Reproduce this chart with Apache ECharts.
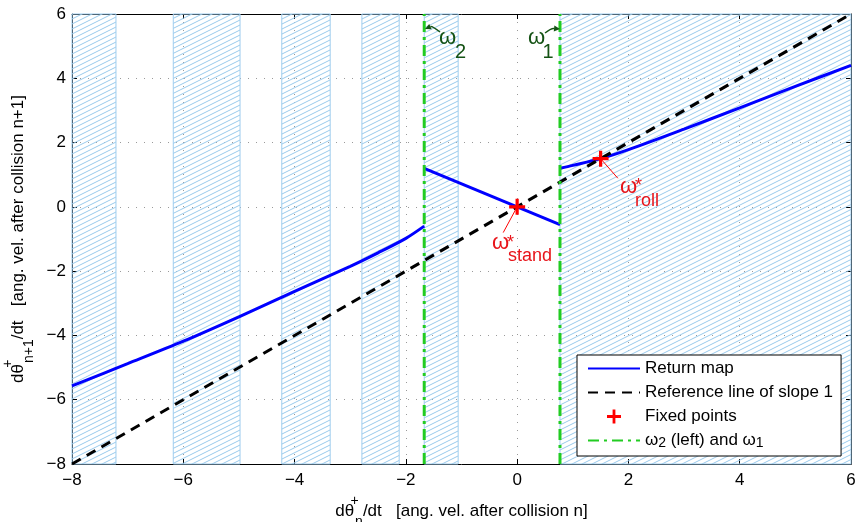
<!DOCTYPE html>
<html>
<head>
<meta charset="utf-8">
<script src="https://cdn.jsdelivr.net/npm/echarts@6/dist/echarts.min.js"></script>
<style>
  html, body { margin: 0; padding: 0; background: #fff; }
  #chart { width: 858px; height: 522px; }
</style>
</head>
<body>
<div id="chart"></div>
<script>
// hatched bands (x ranges)
const bandStart = [-8, -6.18, -4.23, -2.79, -1.67, 0.77];
const bandEnd = [-7.21, -4.98, -3.36, -2.12, -1.06, 6];

// switching velocities
const omega2 = -1.67;
const omega1 = 0.77;

// return map, three pieces
const mapLeftX = [-8, -7, -6, -5, -4, -3, -2.5, -2, -1.67];
const mapLeftY = [-5.57, -4.88, -4.18, -3.42, -2.63, -1.85, -1.43, -0.98, -0.6];
const mapMidX = [-1.67, 0.77];
const mapMidY = [1.2, -0.55];
const mapRightX = [0.77, 1, 1.5, 2, 3, 4, 5, 6];
const mapRightY = [1.2, 1.29, 1.5, 1.78, 2.42, 3.08, 3.75, 4.4];

// slope 1 line
const refX = [-8, 6];
const refY = [-8, 6];

// fixed points
const fixedX = [0, 1.5];
const fixedY = [0, 1.5];

const FONT = "'Liberation Sans', Arial, Helvetica, sans-serif";
const BLUE = '#0000ff';
const GREEN = '#22cc22';
const DARKGREEN = '#145214';
const RED = '#ff0000';
const LABELRED = '#e8141a';

const pairs = (xs, ys) => xs.map((x, i) => [x, ys[i]]);
const minus = v => String(v).replace('-', '\u2212');

function hatch() {
    const c = document.createElement('canvas');
    c.width = 10;
    c.height = 5;
    const g = c.getContext('2d');
    g.strokeStyle = '#98caec';
    g.lineWidth = 1;
    for (let k = -1; k <= 1; k++) {
        g.beginPath();
        g.moveTo(0, 5 + 5 * k);
        g.lineTo(10, 5 * k);
        g.stroke();
    }
    return c;
}

const mainAxis = {
    type: 'value', min: -8, max: 6, interval: 2,
    axisLine: { show: true, onZero: false, lineStyle: { color: '#000', width: 1 } },
    axisTick: { show: true, inside: true, length: 5, lineStyle: { color: '#000' } },
    splitLine: { show: true, lineStyle: { color: '#9a9a9a', type: [1, 7], width: 1 } },
    axisLabel: { color: '#000', fontSize: 17, fontFamily: FONT, formatter: minus }
};
const sideAxis = {
    type: 'value', min: -8, max: 6, interval: 2,
    axisLine: { show: true, onZero: false, lineStyle: { color: '#000', width: 1 } },
    axisTick: { show: true, inside: true, length: 5, lineStyle: { color: '#000' } },
    splitLine: { show: false },
    axisLabel: { show: false }
};

const nameRich = {
    p: { fontSize: 14, fontFamily: FONT, color: '#000', verticalAlign: 'top', lineHeight: 14, width: 1 },
    b: { fontSize: 14, fontFamily: FONT, color: '#000', verticalAlign: 'bottom', lineHeight: 14 }
};

const lineBase = { type: 'line', symbol: 'none', silent: true, animation: false };

const option = {
    animation: false,
    grid: { left: 72, top: 14, right: 7, bottom: 58, containLabel: false, outerBoundsMode: 'none' },
    xAxis: [
        Object.assign({}, mainAxis, {
            position: 'bottom',
            name: 'dθ{p|+}{b|n}/dt   [ang. vel. after collision n]',
            nameLocation: 'middle',
            nameGap: 25,
            nameTextStyle: { fontSize: 17, fontFamily: FONT, color: '#000', lineHeight: 35, rich: nameRich }
        }),
        Object.assign({}, sideAxis, { position: 'top' })
    ],
    yAxis: [
        Object.assign({}, mainAxis, {
            position: 'left',
            axisLabel: Object.assign({}, mainAxis.axisLabel, { margin: 6 }),
            name: 'dθ{p|+}{b|n+1}/dt   [ang. vel. after collision n+1]',
            nameLocation: 'middle',
            nameGap: 27,
            nameRotate: 90,
            nameTextStyle: { fontSize: 17, fontFamily: FONT, color: '#000', lineHeight: 35, rich: nameRich }
        }),
        Object.assign({}, sideAxis, { position: 'right' })
    ],
    legend: {
        data: [
            'Return map',
            'Reference line of slope 1',
            { name: 'Fixed points', itemStyle: { opacity: 1 } },
            'ω2 (left) and ω1'
        ],
        orient: 'vertical',
        left: 577,
        top: 355,
        itemWidth: 52,
        itemHeight: 14,
        itemGap: 5,
        padding: [4, 8, 6, 10],
        backgroundColor: '#fff',
        borderColor: '#000',
        borderWidth: 1,
        borderRadius: 0,
        itemStyle: { opacity: 0 },
        textStyle: {
            fontSize: 17, fontFamily: FONT, color: '#000', lineHeight: 19,
            rich: {
                s: { fontSize: 14, fontFamily: FONT, color: '#000', verticalAlign: 'bottom', lineHeight: 11 }
            }
        },
        formatter: name => name.startsWith('ω') ? 'ω{s|2} (left) and ω{s|1}' : name,
        selectedMode: false
    },
    series: [
        Object.assign({}, lineBase, {
            name: 'bands', data: [], z: 1,
            markArea: {
                silent: true,
                itemStyle: { color: { image: hatch(), repeat: 'repeat' }, borderColor: '#9fcdee', borderWidth: 1 },
                data: bandStart.map((s, i) => [{ xAxis: s }, { xAxis: bandEnd[i] }])
            }
        }),
        Object.assign({}, lineBase, {
            name: 'Return map', data: pairs(mapLeftX, mapLeftY), smooth: 0.3, z: 3,
            lineStyle: { color: BLUE, width: 3 }, itemStyle: { color: BLUE }
        }),
        Object.assign({}, lineBase, {
            name: 'Return map', data: pairs(mapMidX, mapMidY), z: 3,
            lineStyle: { color: BLUE, width: 3 }, itemStyle: { color: BLUE }
        }),
        Object.assign({}, lineBase, {
            name: 'Return map', data: pairs(mapRightX, mapRightY), smooth: 0.3, z: 3,
            lineStyle: { color: BLUE, width: 3 }, itemStyle: { color: BLUE }
        }),
        Object.assign({}, lineBase, {
            name: 'Reference line of slope 1', data: pairs(refX, refY), z: 4,
            lineStyle: { color: '#000', width: 3, type: [10, 7] }, itemStyle: { color: '#000' }
        }),
        Object.assign({}, lineBase, {
            name: 'ω2 (left) and ω1', data: [[omega2, -8], [omega2, 6]], z: 5,
            lineStyle: { color: GREEN, width: 3, type: [11, 5, 3, 5] }, itemStyle: { color: GREEN }
        }),
        Object.assign({}, lineBase, {
            name: 'ω2 (left) and ω1', data: [[omega1, -8], [omega1, 6]], z: 5,
            lineStyle: { color: GREEN, width: 3, type: [11, 5, 3, 5] }, itemStyle: { color: GREEN }
        }),
        {
            name: 'Fixed points', type: 'scatter', silent: true, z: 6,
            data: pairs(fixedX, fixedY),
            symbol: 'path://M4,0h2v4h4v2h-4v4h-2v-4h-4v-2h4z',
            symbolSize: 16,
            itemStyle: { color: RED, opacity: 1 }
        }
    ]
};

const chart = echarts.init(document.getElementById('chart'));
chart.setOption(option);

// annotations, anchored in data units
const p = (x, y) => chart.convertToPixel({ seriesIndex: 1 }, [x, y]);

function text(x, y, str, size, color) {
    const q = p(x, y);
    return {
        type: 'text', x: q[0], y: q[1], silent: true, z: 20,
        style: { text: str, fontSize: size, fontFamily: FONT, fill: color, align: 'left', verticalAlign: 'middle' }
    };
}

function pointer(x1, y1, x2, y2, color) {
    const a = p(x1, y1), b = p(x2, y2);
    return {
        type: 'line', silent: true, z: 20,
        shape: { x1: a[0], y1: a[1], x2: b[0], y2: b[1] },
        style: { stroke: color, lineWidth: 1 }
    };
}

function curvedArrow(sx, sy, cx, cy, ex, ey, color) {
    const s = p(sx, sy), c = p(cx, cy), e = p(ex, ey);
    const dx = e[0] - c[0], dy = e[1] - c[1];
    const len = Math.hypot(dx, dy) || 1;
    const ux = dx / len, uy = dy / len;
    const h = 6, w = 3;
    const bx = e[0] - ux * h, by = e[1] - uy * h;
    return [
        {
            type: 'bezierCurve', silent: true, z: 20,
            shape: { x1: s[0], y1: s[1], cpx1: c[0], cpy1: c[1], x2: bx, y2: by },
            style: { stroke: color, lineWidth: 1.5, fill: null }
        },
        {
            type: 'polygon', silent: true, z: 20,
            shape: { points: [[e[0], e[1]], [bx - uy * w, by + ux * w], [bx + uy * w, by - ux * w]] },
            style: { fill: color }
        }
    ];
}

chart.setOption({
    graphic: [
        pointer(0, 0, -0.25, -0.80, RED),
        pointer(1.5, 1.5, 1.81, 0.89, RED),
        text(-0.452, -1.109, 'ω', 22, LABELRED),
        text(-0.182, -1.134, '*', 18, LABELRED),
        text(-0.164, -1.537, 'stand', 18, LABELRED),
        text(1.849, 0.615, 'ω', 22, LABELRED),
        text(2.119, 0.643, '*', 18, LABELRED),
        text(2.119, 0.178, 'roll', 18, LABELRED),
        text(-1.404, 5.252, 'ω', 22, DARKGREEN),
        text(-1.116, 4.815, '2', 20, DARKGREEN),
        text(0.196, 5.252, 'ω', 22, DARKGREEN),
        text(0.456, 4.815, '1', 20, DARKGREEN)
    ].concat(
        curvedArrow(-1.386, 5.44, -1.53, 5.63, -1.656, 5.53, DARKGREEN),
        curvedArrow(0.501, 5.41, 0.609, 5.56, 0.771, 5.53, DARKGREEN)
    )
});

window.addEventListener('resize', function () {
    chart.resize();
});
</script>
</body>
</html>
